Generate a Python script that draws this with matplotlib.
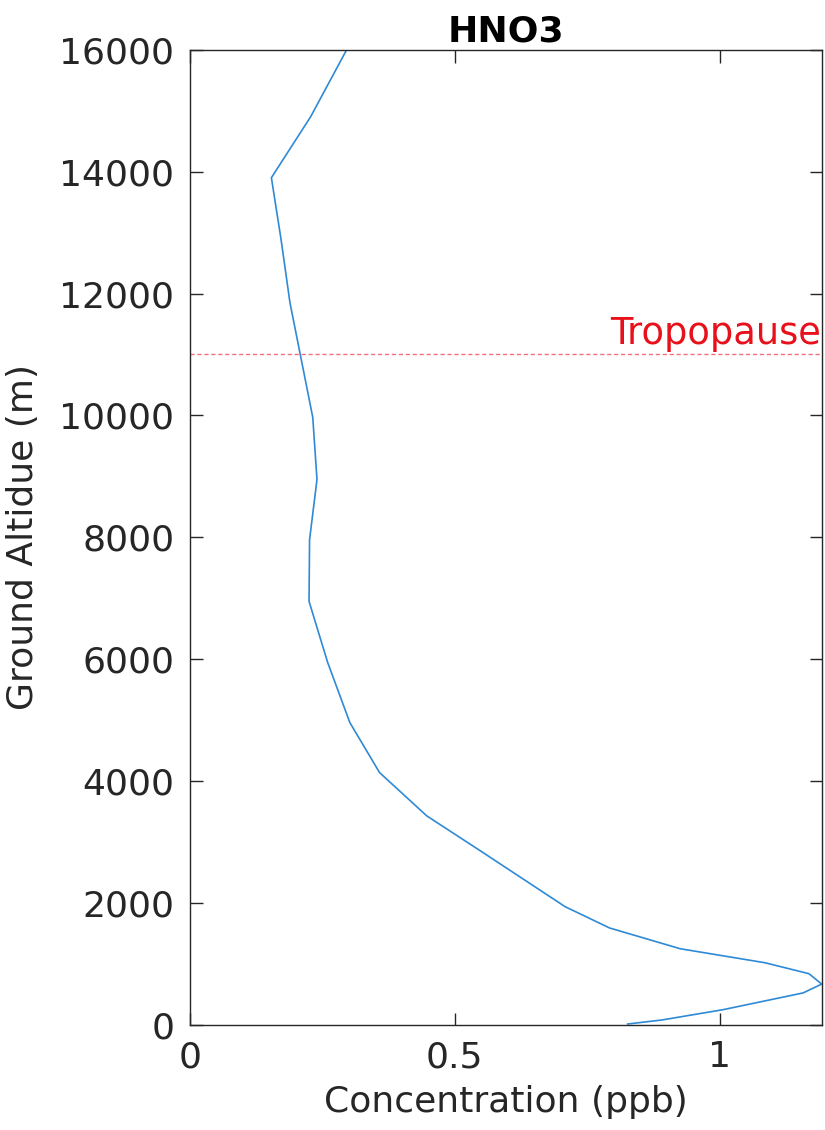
import matplotlib
matplotlib.use("Agg")
import matplotlib.pyplot as plt

# HNO3 profile
altitude = [15, 80, 250, 525, 670, 840, 1020, 1250, 1590, 1940, 2840, 3430,
            4140, 4960, 5950, 6950, 7960, 8950, 9970, 11850, 12900, 13900,
            14900, 16000]
concentration = [0.826, 0.890, 1.006, 1.157, 1.192, 1.168, 1.085, 0.925,
                 0.792, 0.708, 0.551, 0.447, 0.358, 0.302, 0.260, 0.225,
                 0.226, 0.240, 0.232, 0.189, 0.172, 0.154, 0.228, 0.296]
tropopause = 11000
x_ticks = [0, 0.5, 1]
x_tick_labels = ["0", "0.5", "1"]
y_ticks = list(range(0, 16001, 2000))

grey = "#262626"
plt.rcParams['font.family'] = ['DejaVu Sans']

fig = plt.figure(figsize=(8.25, 11.3), dpi=100)
ax = fig.add_axes([0.230, 0.093, 0.766, 0.863])

ax.plot(concentration, altitude, color="#2f8ad6", linewidth=1.2)
ax.axhline(tropopause, color="#f07080", linestyle="--", linewidth=1.0,
           dashes=(3, 2))
ax.text(1.19, tropopause + 40, "Tropopause", color="#e8101a", fontsize=26.5,
        ha="right", va="bottom")

ax.set_xlim(0, 1.192)
ax.set_ylim(0, 16000)
ax.set_xticks(x_ticks)
ax.set_xticklabels(x_tick_labels)
ax.set_yticks(y_ticks)

ax.tick_params(direction="in", length=9, width=1.0, colors=grey,
               labelsize=26, top=True, right=True, pad=11)
for sp in ax.spines.values():
    sp.set_color(grey)
    sp.set_linewidth(1.0)

ax.set_xlabel("Concentration (ppb)", fontsize=26, color=grey, labelpad=8)
ax.set_ylabel("Ground Altidue (m)", fontsize=26, color=grey, labelpad=14)
ax.set_title("HNO3", fontsize=26, fontweight="bold", pad=6)

fig.savefig("out.png", dpi=100)
